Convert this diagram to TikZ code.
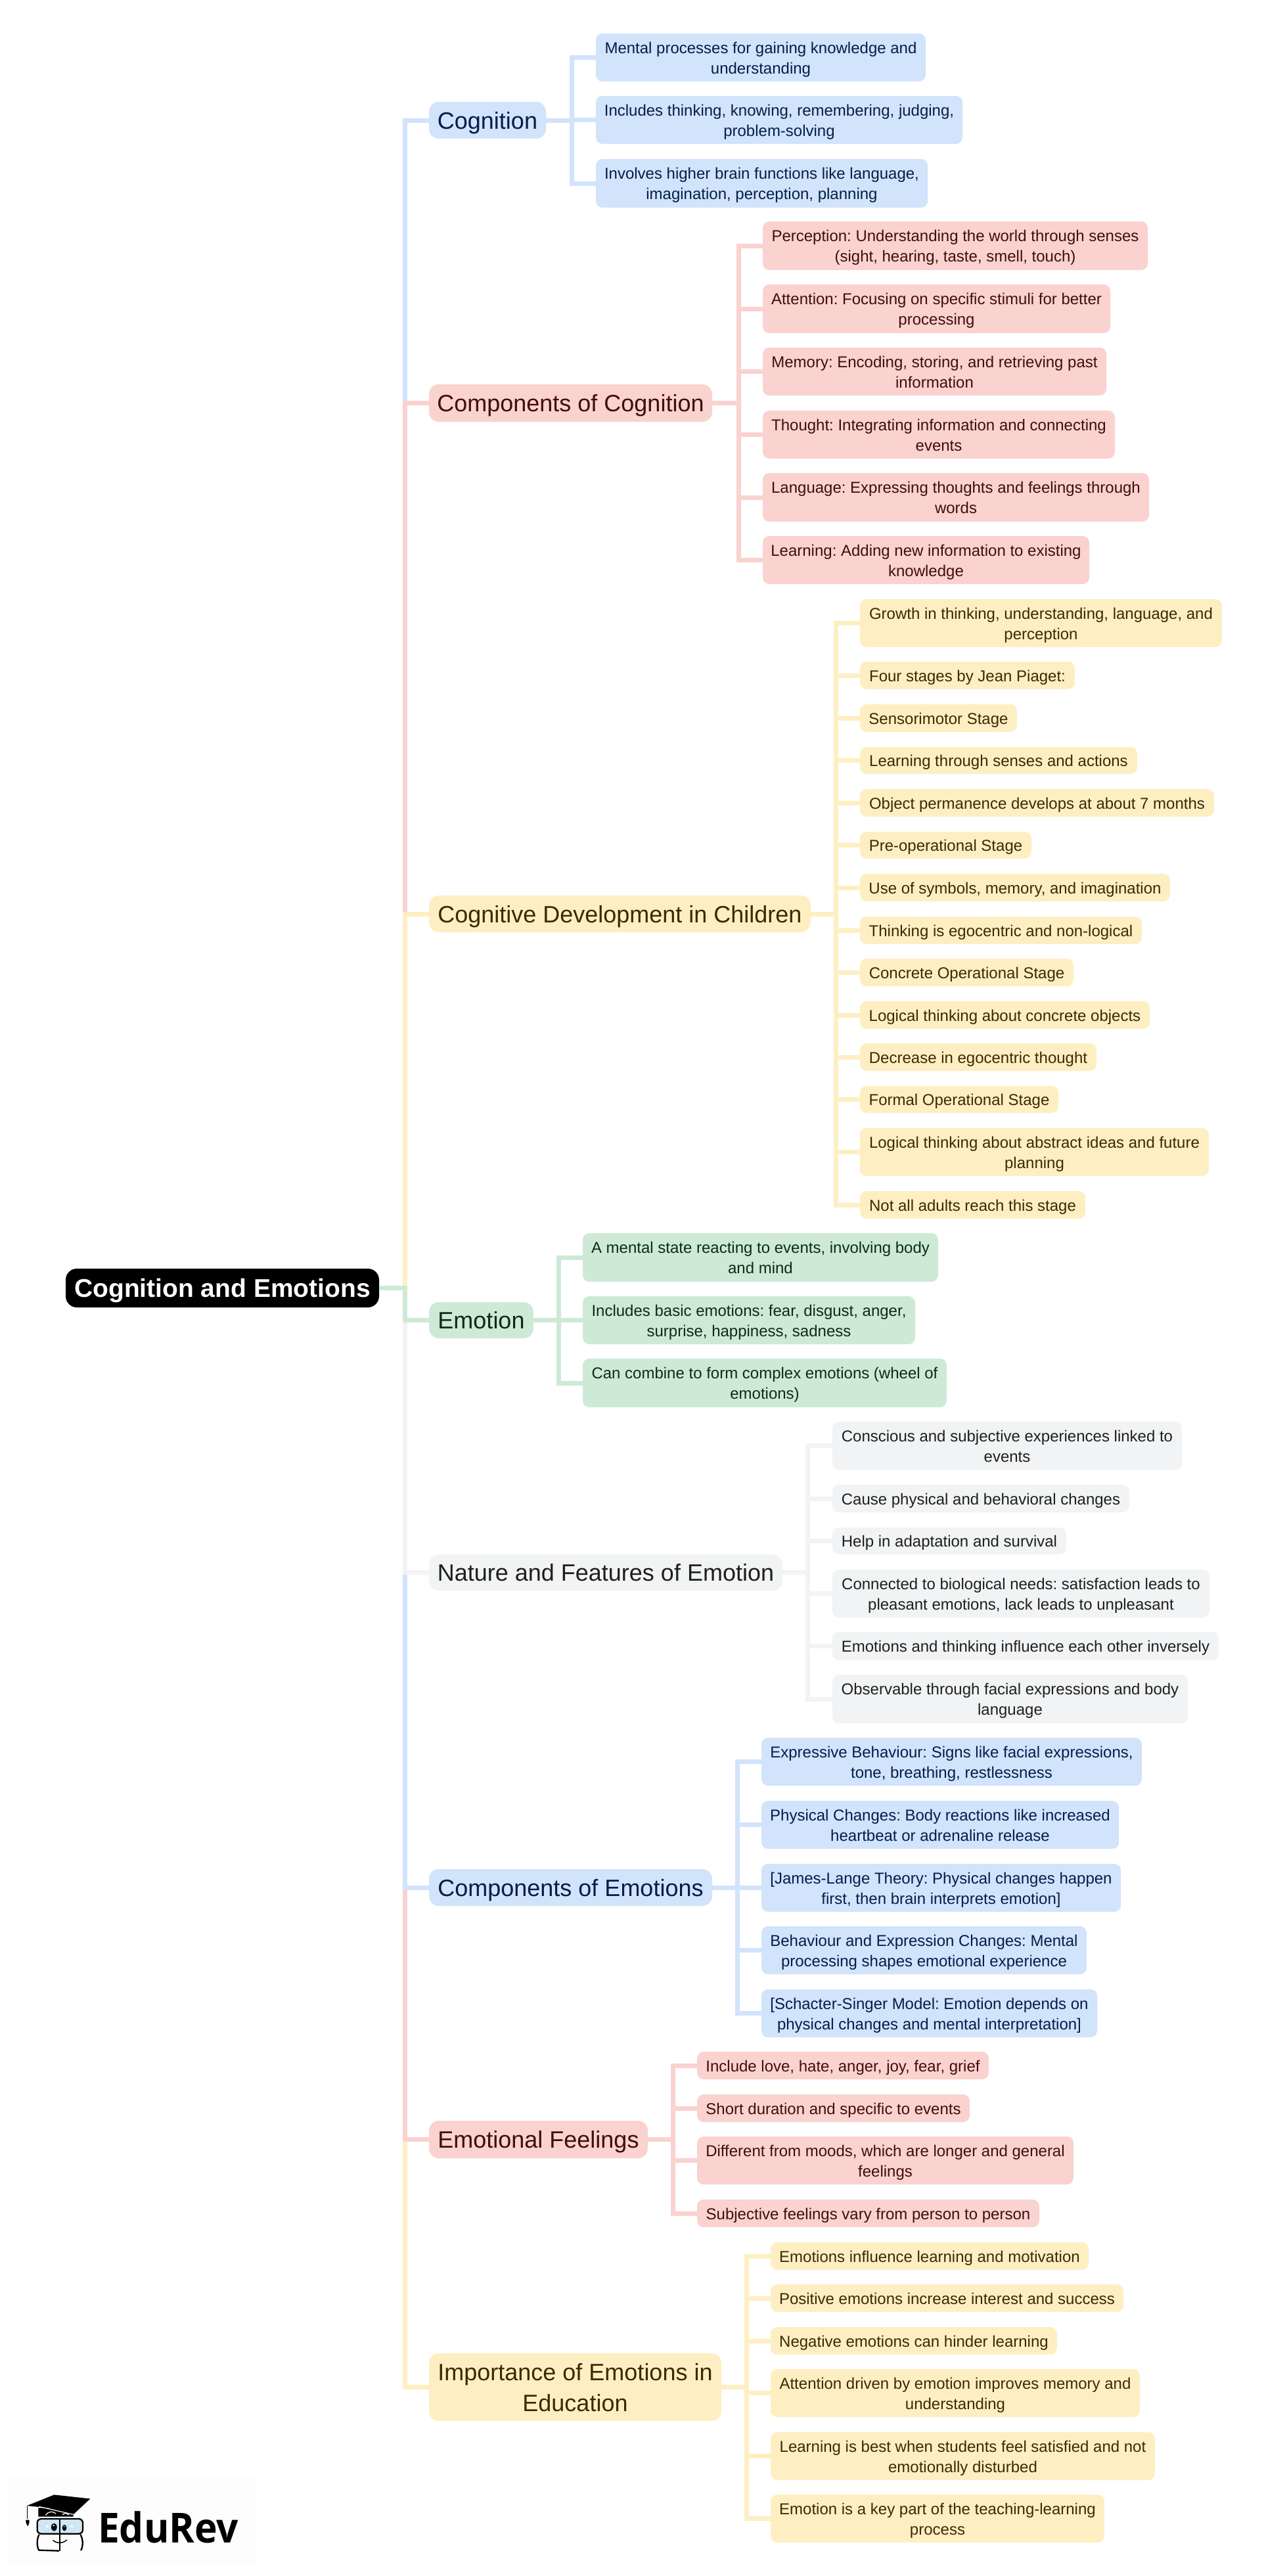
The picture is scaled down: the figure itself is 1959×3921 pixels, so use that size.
\documentclass[tikz,border=0pt]{standalone}
\usepackage{fontspec}
\setmainfont{Liberation Sans}
\newfontfamily\logofont{Open Sans}
\definecolor{cbF}{HTML}{D2E3FC}\definecolor{cbT}{HTML}{041E49}
\definecolor{cpF}{HTML}{FAD2CF}\definecolor{cpT}{HTML}{410E0B}
\definecolor{cyF}{HTML}{FEEFC3}\definecolor{cyT}{HTML}{3C2A00}
\definecolor{cgF}{HTML}{CEEAD6}\definecolor{cgT}{HTML}{0D2B18}
\definecolor{cnF}{HTML}{F1F3F4}\definecolor{cnT}{HTML}{1F1F1F}
\definecolor{lensblue}{HTML}{CFE6F5}
\definecolor{faint}{HTML}{FDFDFD}
\newcommand\lstr{\rule[-6pt]{0pt}{30pt}}
\newcommand\mstr{\rule[-9pt]{0pt}{44pt}}
\newcommand\rstr{\rule[-10pt]{0pt}{48pt}}
\tikzset{
  x=1pt,y=-1pt,
  boxb/.style={inner sep=0pt,outer sep=0pt,align=center,anchor=north west},
  leaf/.style={boxb,rounded corners=10pt,font=\fontsize{24}{31}\selectfont\frenchspacing\let\nstr\lstr},
  mainn/.style={boxb,rounded corners=15pt,font=\fontsize{36}{47}\selectfont\frenchspacing\let\nstr\mstr},
  rootn/.style={boxb,rounded corners=17pt,fill=black,text=white,font=\fontsize{39}{47}\selectfont\bfseries\let\nstr\rstr},
  bl/.style={fill=cbF,text=cbT},
  pk/.style={fill=cpF,text=cpT},
  yl/.style={fill=cyF,text=cyT},
  gr/.style={fill=cgF,text=cgT},
  gy/.style={fill=cnF,text=cnT},
  edge/.style={line width=7pt,miter limit=10},
}
% name, style, left, top, right, bottom, text
\newcommand\Bx[7]{%
  \pgfmathsetmacro\bw{#5-#3}\pgfmathsetmacro\bh{#6-#4}%
  \node[#2,minimum width=\bw pt,minimum height=\bh pt] (#1) at (#3,#4) {\nstr #7\nstr};}
\begin{document}
\begin{tikzpicture}
\useasboundingbox (0,0) rectangle (1959,3921);
\fill[white] (0,0) rectangle (1959,3921);
% logo ground
\fill[faint] (10,3770) rectangle (392,3905);
% root
\Bx{root}{rootn}{100}{1931}{577}{1990}{Cognition and Emotions}
\coordinate (rj) at (616,1960.5);
% mains
\Bx{A}{mainn,bl}{653}{155}{831}{211}{Cognition}
\Bx{B}{mainn,pk}{653}{585}{1084}{642}{Components of Cognition}
\Bx{C}{mainn,yl}{653}{1363}{1234}{1419}{Cognitive Development in Children}
\Bx{D}{mainn,gr}{653}{1982}{812}{2037}{Emotion}
\Bx{E}{mainn,gy}{653}{2366}{1191}{2421}{Nature and Features of Emotion}
\Bx{F}{mainn,bl}{653}{2845}{1084}{2901}{Components of Emotions}
\Bx{G}{mainn,pk}{653}{3228}{986}{3285}{Emotional Feelings}
\Bx{H}{mainn,yl}{653}{3582}{1098}{3685}{Importance of Emotions in\\Education}
% spines
\coordinate (sA) at (870,0);\coordinate (sB) at (1124.5,0);\coordinate (sC) at (1272.5,0);
\coordinate (sD) at (850,0);\coordinate (sE) at (1229.5,0);\coordinate (sF) at (1122,0);
\coordinate (sG) at (1024,0);\coordinate (sH) at (1136,0);
% A
\Bx{A1}{leaf,bl}{907}{51}{1409}{124}{Mental processes for gaining knowledge and\\understanding}
\Bx{A2}{leaf,bl}{907}{146}{1465}{219}{Includes thinking, knowing, remembering, judging,\\problem-solving}
\Bx{A3}{leaf,bl}{907}{242}{1412}{316}{Involves higher brain functions like language,\\imagination, perception, planning}
% B
\Bx{B1}{leaf,pk}{1161}{337}{1747}{411}{Perception: Understanding the world through senses\\(sight, hearing, taste, smell, touch)}
\Bx{B2}{leaf,pk}{1161}{433}{1690}{507}{Attention: Focusing on specific stimuli for better\\processing}
\Bx{B3}{leaf,pk}{1161}{529}{1684}{602}{Memory: Encoding, storing, and retrieving past\\information}
\Bx{B4}{leaf,pk}{1161}{625}{1697}{698}{Thought: Integrating information and connecting\\events}
\Bx{B5}{leaf,pk}{1161}{720}{1749}{794}{Language: Expressing thoughts and feelings through\\words}
\Bx{B6}{leaf,pk}{1161}{816}{1658}{889}{Learning: Adding new information to existing\\knowledge}
% C
\Bx{C1}{leaf,yl}{1309}{912}{1860}{985}{Growth in thinking, understanding, language, and\\perception}
\Bx{C2}{leaf,yl}{1309}{1007}{1636}{1049}{Four stages by Jean Piaget:}
\Bx{C3}{leaf,yl}{1309}{1072}{1548}{1114}{Sensorimotor Stage}
\Bx{C4}{leaf,yl}{1309}{1137}{1731}{1178}{Learning through senses and actions}
\Bx{C5}{leaf,yl}{1309}{1201}{1848}{1243}{Object permanence develops at about 7 months}
\Bx{C6}{leaf,yl}{1309}{1266}{1570}{1307}{Pre-operational Stage}
\Bx{C7}{leaf,yl}{1309}{1330}{1781}{1372}{Use of symbols, memory, and imagination}
\Bx{C8}{leaf,yl}{1309}{1395}{1738}{1437}{Thinking is egocentric and non-logical}
\Bx{C9}{leaf,yl}{1309}{1459}{1634}{1501}{Concrete Operational Stage}
\Bx{C10}{leaf,yl}{1309}{1524}{1750}{1566}{Logical thinking about concrete objects}
\Bx{C11}{leaf,yl}{1309}{1588}{1669}{1630}{Decrease in egocentric thought}
\Bx{C12}{leaf,yl}{1309}{1653}{1611}{1694}{Formal Operational Stage}
\Bx{C13}{leaf,yl}{1309}{1717}{1840}{1790}{Logical thinking about abstract ideas and future\\planning}
\Bx{C14}{leaf,yl}{1309}{1813}{1652}{1855}{Not all adults reach this stage}
% D
\Bx{D1}{leaf,gr}{887}{1877}{1428}{1951}{A mental state reacting to events, involving body\\and mind}
\Bx{D2}{leaf,gr}{887}{1973}{1393}{2046}{Includes basic emotions: fear, disgust, anger,\\surprise, happiness, sadness}
\Bx{D3}{leaf,gr}{887}{2068}{1441}{2142}{Can combine to form complex emotions (wheel of\\emotions)}
% E
\Bx{E1}{leaf,gy}{1267}{2164}{1799}{2237}{Conscious and subjective experiences linked to\\events}
\Bx{E2}{leaf,gy}{1267}{2260}{1719}{2302}{Cause physical and behavioral changes}
\Bx{E3}{leaf,gy}{1267}{2325}{1623}{2366}{Help in adaptation and survival}
\Bx{E4}{leaf,gy}{1267}{2389}{1841}{2462}{Connected to biological needs: satisfaction leads to\\pleasant emotions, lack leads to unpleasant}
\Bx{E5}{leaf,gy}{1267}{2484}{1855}{2527}{Emotions and thinking influence each other inversely}
\Bx{E6}{leaf,gy}{1267}{2549}{1808}{2623}{Observable through facial expressions and body\\language}
% F
\Bx{F1}{leaf,bl}{1159}{2645}{1738}{2718}{Expressive Behaviour: Signs like facial expressions,\\tone, breathing, restlessness}
\Bx{F2}{leaf,bl}{1159}{2741}{1703}{2814}{Physical Changes: Body reactions like increased\\heartbeat or adrenaline release}
\Bx{F3}{leaf,bl}{1159}{2837}{1706}{2910}{[James-Lange Theory: Physical changes happen\\first, then brain interprets emotion]}
\Bx{F4}{leaf,bl}{1159}{2932}{1654}{3005}{Behaviour and Expression Changes: Mental\\processing shapes emotional experience}
\Bx{F5}{leaf,bl}{1159}{3028}{1670}{3101}{[Schacter-Singer Model: Emotion depends on\\physical changes and mental interpretation]}
% G
\Bx{G1}{leaf,pk}{1061}{3123}{1505}{3165}{Include love, hate, anger, joy, fear, grief}
\Bx{G2}{leaf,pk}{1061}{3188}{1476}{3230}{Short duration and specific to events}
\Bx{G3}{leaf,pk}{1061}{3252}{1634}{3325}{Different from moods, which are longer and general\\feelings}
\Bx{G4}{leaf,pk}{1061}{3348}{1582}{3390}{Subjective feelings vary from person to person}
% H
\Bx{H1}{leaf,yl}{1173}{3413}{1657}{3455}{Emotions influence learning and motivation}
\Bx{H2}{leaf,yl}{1173}{3477}{1710}{3519}{Positive emotions increase interest and success}
\Bx{H3}{leaf,yl}{1173}{3542}{1609}{3584}{Negative emotions can hinder learning}
\Bx{H4}{leaf,yl}{1173}{3606}{1735}{3679}{Attention driven by emotion improves memory and\\understanding}
\Bx{H5}{leaf,yl}{1173}{3702}{1758}{3775}{Learning is best when students feel satisfied and not\\emotionally disturbed}
\Bx{H6}{leaf,yl}{1173}{3797}{1681}{3870}{Emotion is a key part of the teaching-learning\\process}
% root edges
\draw[edge,cbF] (root.east) -- (rj) |- (A.west);
\draw[edge,cpF] (root.east) -- (rj) |- (B.west);
\draw[edge,cyF] (root.east) -- (rj) |- (C.west);
\draw[edge,cyF] (root.east) -- (rj) |- (H.west);
\draw[edge,cpF] (root.east) -- (rj) |- (G.west);
\draw[edge,cbF] (root.east) -- (rj) |- (F.west);
\draw[edge,cnF] (root.east) -- (rj) |- (E.west);
\draw[edge,cgF] (root.east) -- (rj) |- (D.west);
% group edges
\foreach \n in {A1,A2,A3} \draw[edge,cbF] (A.east) -- (A.east -| sA) |- (\n.west);
\foreach \n in {B1,B2,B3,B4,B5,B6} \draw[edge,cpF] (B.east) -- (B.east -| sB) |- (\n.west);
\foreach \n in {C1,C2,C3,C4,C5,C6,C7,C8,C9,C10,C11,C12,C13,C14} \draw[edge,cyF] (C.east) -- (C.east -| sC) |- (\n.west);
\foreach \n in {D1,D2,D3} \draw[edge,cgF] (D.east) -- (D.east -| sD) |- (\n.west);
\foreach \n in {E1,E2,E3,E4,E5,E6} \draw[edge,cnF] (E.east) -- (E.east -| sE) |- (\n.west);
\foreach \n in {F1,F2,F3,F4,F5} \draw[edge,cbF] (F.east) -- (F.east -| sF) |- (\n.west);
\foreach \n in {G1,G2,G3,G4} \draw[edge,cpF] (G.east) -- (G.east -| sG) |- (\n.west);
\foreach \n in {H1,H2,H3,H4,H5,H6} \draw[edge,cyF] (H.east) -- (H.east -| sH) |- (\n.west);
% logo text
\node[inner sep=0pt,anchor=base west,xscale=0.93,font=\logofont\fontsize{63}{63}\selectfont\bfseries,text=black] (logotext) at (149,3870) {EduRev};
% mascot
\begin{scope}[shift={(0,3740)},x=0.3333pt,y=-0.3333pt]
  % cap base
  \fill[black] (175,232) -- (175,272) -- (335,272) -- (335,235) -- cycle;
  % board
  \fill[black] (123,222) -- (247,172) -- (412,190) -- (335,262) -- (250,235) -- cycle;
  \draw[white,line width=1.2pt] (178,226) -- (335,262);
  % tassel
  \draw[black,line width=1.5pt] (125,222) -- (125,282);
  \fill[black] (118,287) -- (133,287) .. controls (137,297) and (130,308) .. (127,316) .. controls (122,308) and (116,297) .. (118,287) -- cycle;
  % lower face
  \draw[black,line width=2.3pt,line cap=round] (178,355) .. controls (165,380) and (170,415) .. (178,425) -- (268,428);
  \draw[black,line width=2.3pt,line cap=round] (368,355) .. controls (382,380) and (378,410) .. (370,425);
  % lenses
  \draw[black,fill=lensblue,line width=2.3pt,rounded corners=6pt] (170,282) rectangle (378,350);
  % centre line
  \draw[black,line width=2.3pt] (272,280) -- (272,430);
  % eyes
  \fill[black] (247,320) ellipse [x radius=13,y radius=18];
  \fill[white] (245,312) circle [radius=4];
  \fill[black] (294,323) ellipse [x radius=10,y radius=14];
  \fill[white] (293,317) circle [radius=3];
  % lens glints
  \fill[white] (210,312) rectangle (222,322);
  \fill[white] (322,312) rectangle (334,322);
  % brows
  \draw[white,line width=1.2pt] (208,265) .. controls (220,248) and (240,245) .. (255,258);
  \draw[white,line width=1.2pt] (285,263) .. controls (295,254) and (305,255) .. (315,265);
  % smile
  \draw[black,line width=1.5pt,line cap=round] (243,380) .. controls (255,395) and (290,395) .. (305,378);
\end{scope}
\end{tikzpicture}
\end{document}
